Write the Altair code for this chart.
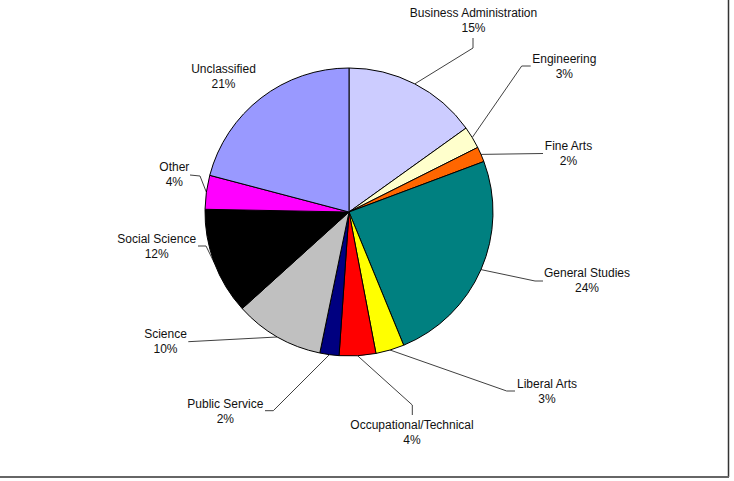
import math
import altair as alt
import pandas as pd

# ---- data ----
categories = ["Business Administration", "Engineering", "Fine Arts", "General Studies",
              "Liberal Arts", "Occupational/Technical", "Public Service", "Science",
              "Social Science", "Other", "Unclassified"]
values = [15.1, 2.5, 1.7, 24.5, 3.2, 4.1, 2.15, 10.05, 12.0, 3.8, 20.9]
pct_labels = ["15%", "3%", "2%", "24%", "3%", "4%", "2%", "10%", "12%", "4%", "21%"]
colors = ["#CCCCFF", "#FFFFCC", "#FF6600", "#008080", "#FFFF00", "#FF0000",
          "#000080", "#C0C0C0", "#000000", "#FF00FF", "#9999FF"]

# ---- layout (pixels) ----
W, H = 734, 481
CX, CY, R = 349, 212, 144
label_pos = [(473.5, 12.5), (564.3, 59), (568.5, 145.5), (587, 273), (547, 383.5),
             (412, 425), (225.3, 403.5), (165.5, 333.5), (156.7, 238.5), (174.3, 167),
             (223.5, 69)]
# leader elbows/ends (None = no leader)
leaders = [[(473, 48), (473, 38)], [(521.7, 66), (530.7, 66)], [(543, 153.5)],
           [(535, 281), (543, 281)], [(506.7, 391), (515, 391)], [(412.3, 405), (412.3, 415)],
           [(273.3, 410.7), (265, 410.7)], [(188.3, 341.7)], [(206, 246), (198, 246)],
           [(200, 176), (190, 175)], None]

total = sum(values)
pie_df = pd.DataFrame({"cat": categories, "value": values, "idx": list(range(len(values)))})

rows = []
cum = 0.0
for i, (c, v) in enumerate(zip(categories, values)):
    mid = (cum + v / 2) / total * 2 * math.pi
    cum += v
    if leaders[i] is None:
        continue
    sx = CX + R * math.sin(mid)
    sy = CY - R * math.cos(mid)
    pts = [(sx, sy)] + leaders[i]
    for k, (px, py) in enumerate(pts):
        rows.append({"cat": c, "step": k, "px": px, "py": py})
lead_df = pd.DataFrame(rows)

lab_df = pd.DataFrame({"name": categories, "pct": pct_labels,
                       "lx": [p[0] for p in label_pos], "ly": [p[1] for p in label_pos]})

xs = alt.Scale(domain=[0, W], nice=False, zero=False)
ys = alt.Scale(domain=[0, H], nice=False, zero=False, reverse=True)

lines = alt.Chart(lead_df).mark_line(color="#404040", strokeWidth=1).encode(
    x=alt.X("px:Q", scale=xs, axis=None),
    y=alt.Y("py:Q", scale=ys, axis=None),
    detail="cat:N",
    order="step:Q",
)

pie = alt.Chart(pie_df).mark_arc(outerRadius=R, stroke="black", strokeWidth=1).encode(
    theta=alt.Theta("value:Q", stack=True),
    color=alt.Color("cat:N", scale=alt.Scale(domain=categories, range=colors), legend=None),
    order=alt.Order("idx:Q"),
    x=alt.value(CX),
    y=alt.value(CY),
)

txt_name = alt.Chart(lab_df).mark_text(font="Liberation Sans", fontSize=12, color="#111111",
                                       align="center", baseline="middle").encode(
    x=alt.X("lx:Q", scale=xs, axis=None),
    y=alt.Y("ly:Q", scale=ys, axis=None),
    text="name:N",
)
txt_pct = alt.Chart(lab_df).mark_text(font="Liberation Sans", fontSize=12, color="#111111",
                                      align="center", baseline="middle", dy=15).encode(
    x=alt.X("lx:Q", scale=xs, axis=None),
    y=alt.Y("ly:Q", scale=ys, axis=None),
    text="pct:N",
)

frame_df = pd.DataFrame({"k": [0]})
right_edge = alt.Chart(frame_df).mark_rule(color="#333333", strokeWidth=1.5).encode(
    x=alt.value(728.5), y=alt.value(0), y2=alt.value(477))
bottom_edge = alt.Chart(frame_df).mark_rule(color="#666666", strokeWidth=2).encode(
    x=alt.value(0), x2=alt.value(729), y=alt.value(477))

chart = alt.layer(lines, pie, txt_name, txt_pct, right_edge, bottom_edge).properties(
    width=W, height=H, padding=0, autosize=alt.AutoSizeParams(type="none"),
    background="white",
).configure_view(stroke=None)

chart.save("out.html", embed_options={"renderer": "svg", "actions": False})
